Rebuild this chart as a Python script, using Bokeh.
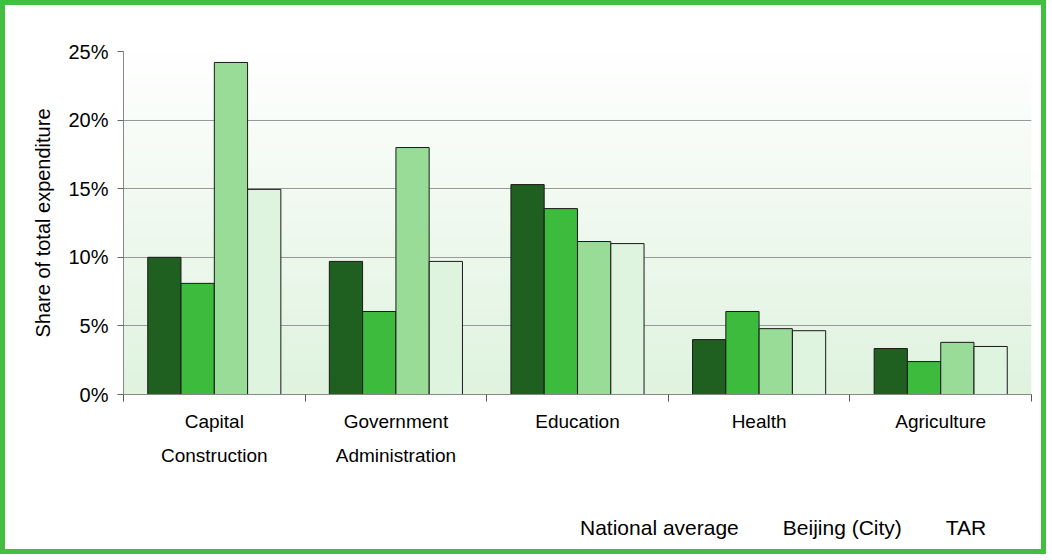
import numpy as np
from bokeh.plotting import figure
from bokeh.layouts import column
from bokeh.models import (Range1d, LinearAxis, FixedTicker, Legend, LegendItem,
                          PrintfTickFormatter, ColumnDataSource)
from bokeh.transform import dodge
from bokeh.embed import file_html
from bokeh.resources import INLINE

categories = ["Capital\nConstruction", "Government\nAdministration", "Education", "Health", "Agriculture"]
series = ["National average", "Beijing (City)", "TAR", "Qinghai"]
national = [10.0, 9.7, 15.3, 4.0, 3.35]
beijing = [8.1, 6.05, 13.55, 6.05, 2.4]
tar = [24.2, 18.0, 11.15, 4.8, 3.8]
qinghai = [14.95, 9.7, 11.0, 4.65, 3.5]
colors = ["#1f5f20", "#3dbb3d", "#98dc98", "#dff4df"]
y_ticks = [0, 5, 10, 15, 20, 25]

FONT = "Liberation Sans"
ncat = len(categories)
centers = [i + 0.5 for i in range(ncat)]

src = ColumnDataSource(dict(xc=centers, national=national, beijing=beijing, tar=tar, qinghai=qinghai))

p = figure(x_range=Range1d(0, ncat), y_range=Range1d(0, 25),
           frame_width=908, frame_height=343,
           output_backend="svg", toolbar_location=None,
           x_axis_location=None,
           min_border_left=118, min_border_right=10, min_border_top=46, min_border_bottom=100)
p.outline_line_color = None
p.background_fill_color = "white"
p.border_fill_color = "white"

# gradient background (white at top, pale green at bottom)
n = 120
img = np.zeros((n, 1), dtype=np.uint32)
view = img.view(dtype=np.uint8).reshape((n, 1, 4))
bot = np.array([0xdf, 0xf3, 0xdf])
top = np.array([0xff, 0xff, 0xff])
for i in range(n):
    t = i / (n - 1)
    c = bot * (1 - t) + top * t
    view[i, 0, 0:3] = c.astype(np.uint8)
    view[i, 0, 3] = 255
p.image_rgba(image=[img], x=0, y=0, dw=ncat, dh=25, level="image")

# bars
cols = ["national", "beijing", "tar", "qinghai"]
offsets = [-0.275, -0.0917, 0.0917, 0.275]
for j, c in enumerate(cols):
    p.vbar(x=dodge("xc", offsets[j]), top=c, width=0.183, source=src,
           fill_color=colors[j], line_color="#1a1a1a", line_width=1)

# y axis
p.yaxis.ticker = FixedTicker(ticks=y_ticks)
p.yaxis.formatter = PrintfTickFormatter(format="%d%%")
p.yaxis.axis_label = "Share of total expenditure"
p.yaxis.axis_label_text_font = FONT
p.yaxis.axis_label_text_font_size = "20px"
p.yaxis.axis_label_text_font_style = "normal"
p.yaxis.axis_label_text_color = "black"
p.yaxis.axis_label_standoff = 11
p.yaxis.major_label_text_font = FONT
p.yaxis.major_label_text_font_size = "20px"
p.yaxis.major_label_text_color = "black"
p.yaxis.major_label_standoff = 9
p.yaxis.axis_line_color = "#888888"
p.yaxis.major_tick_line_color = "#666666"
p.yaxis.major_tick_out = 6
p.yaxis.major_tick_in = 0
p.yaxis.minor_tick_line_color = None

p.xgrid.visible = False
p.ygrid.ticker = FixedTicker(ticks=y_ticks)
p.ygrid.grid_line_color = "#999999"
p.ygrid.grid_line_width = 1

# boundary ticks axis
tick_ax = LinearAxis(ticker=FixedTicker(ticks=list(range(ncat + 1))),
                     major_label_text_font_size="0px", major_label_standoff=0,
                     major_tick_out=7, major_tick_in=0, minor_tick_line_color=None,
                     axis_line_color="#888888", major_tick_line_color="#555555")
p.add_layout(tick_ax, "below")

cat_ax = LinearAxis(ticker=FixedTicker(ticks=centers),
                    major_label_overrides={c: lab for c, lab in zip(centers, categories)},
                    axis_line_color=None, major_tick_line_color=None, minor_tick_line_color=None,
                    major_tick_out=0,
                    major_label_text_font=FONT, major_label_text_font_size="19px",
                    major_label_text_color="black", major_label_standoff=9,
                    major_label_text_line_height=1.65)
p.add_layout(cat_ax, "below")

# legend strip (separate figure placed under the chart)
p2 = figure(x_range=Range1d(0, 1), y_range=Range1d(0, 1), width=1036, height=55,
            output_backend="svg", toolbar_location=None,
            x_axis_location=None, y_axis_location=None,
            min_border_left=0, min_border_right=0, min_border_top=0, min_border_bottom=0)
p2.outline_line_color = None
p2.background_fill_color = "white"
p2.border_fill_color = "white"
p2.grid.visible = False
items = []
for j, s in enumerate(series):
    r = p2.vbar(x=[], top=[], width=0.1, fill_color=colors[j], line_color="#1a1a1a", line_width=1)
    items.append(LegendItem(label=s, renderers=[r]))
legend = Legend(items=items, orientation="horizontal", location=(436, 9),
                label_text_font=FONT, label_text_font_size="21px", label_text_color="black",
                glyph_width=14, glyph_height=14, label_standoff=7, spacing=23,
                border_line_color=None, background_fill_alpha=0, padding=0, margin=0)
p2.add_layout(legend, "center")

layout = column(p, p2, spacing=0)
layout.styles = {"border": "5px solid #40bf40", "box-sizing": "border-box"}

open("out.html", "w").write(file_html(layout, INLINE))
